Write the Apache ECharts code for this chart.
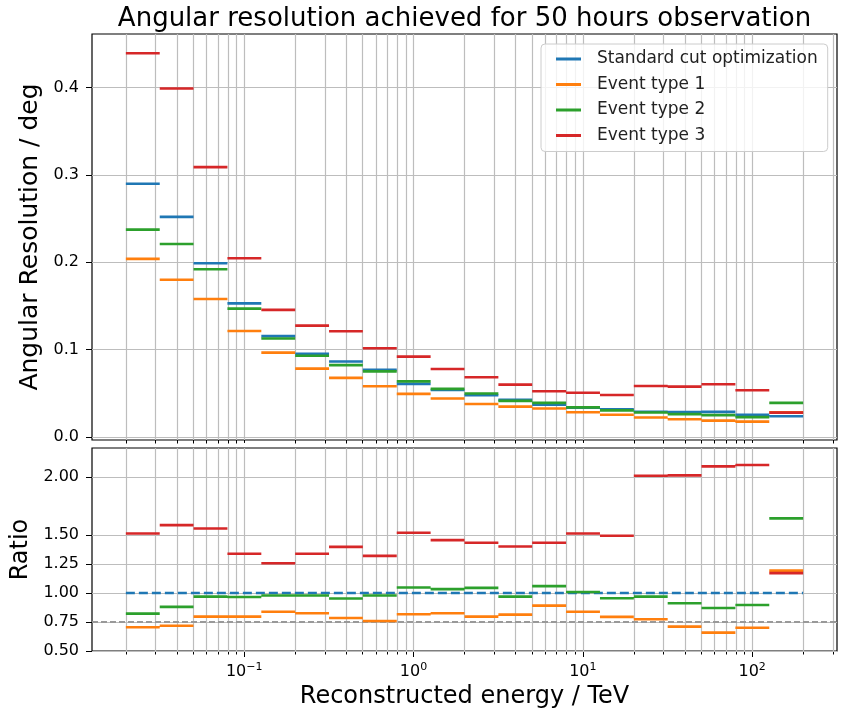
<!DOCTYPE html>
<html><head><meta charset="utf-8">
<script src="https://cdn.jsdelivr.net/npm/echarts@6/dist/echarts.min.js"></script>
<style>html,body{margin:0;padding:0;background:#fff}#c{width:843px;height:713px}</style>
</head><body><div id="c"></div>
<script>
// ---- data ----
const binEdges = [0.02, 0.0317, 0.0502, 0.0796, 0.1262, 0.2, 0.317, 0.502, 0.796, 1.262, 2, 3.17, 5.02, 7.96, 12.62, 20, 31.7, 50.2, 79.6, 126.2, 200];
const stdRes   = [0.290, 0.252, 0.199, 0.153, 0.1155, 0.0952, 0.0864, 0.0768, 0.0608, 0.0537, 0.0478, 0.0425, 0.0368, 0.0336, 0.0318, 0.0289, 0.0286, 0.0287, 0.0253, 0.0237];
const type1Res = [0.204, 0.180, 0.158, 0.1214, 0.0966, 0.0782, 0.0676, 0.058, 0.0493, 0.0441, 0.0378, 0.0347, 0.0326, 0.0282, 0.0254, 0.0222, 0.0202, 0.0187, 0.0176, 0.0281];
const type2Res = [0.2375, 0.221, 0.192, 0.147, 0.1128, 0.0930, 0.0822, 0.0751, 0.0636, 0.0551, 0.0498, 0.0413, 0.0390, 0.0339, 0.0304, 0.0280, 0.0261, 0.0250, 0.0227, 0.0390];
const type3Res = [0.4394, 0.399, 0.309, 0.2046, 0.1455, 0.1275, 0.121, 0.1015, 0.092, 0.0779, 0.0683, 0.0599, 0.0523, 0.0507, 0.0481, 0.0584, 0.0576, 0.0603, 0.0534, 0.0278];
const type1Ratio = [0.705, 0.718, 0.796, 0.796, 0.839, 0.825, 0.785, 0.759, 0.817, 0.825, 0.796, 0.814, 0.891, 0.839, 0.794, 0.774, 0.710, 0.658, 0.701, 1.193];
const type2Ratio = [0.822, 0.880, 0.969, 0.966, 0.978, 0.978, 0.952, 0.978, 1.047, 1.033, 1.044, 0.969, 1.059, 1.009, 0.955, 0.969, 0.912, 0.871, 0.897, 1.643];
const type3Ratio = [1.513, 1.585, 1.556, 1.338, 1.257, 1.338, 1.398, 1.320, 1.519, 1.456, 1.433, 1.401, 1.433, 1.513, 1.493, 2.011, 2.014, 2.092, 2.104, 1.171];
const seriesNames = ['Standard cut optimization', 'Event type 1', 'Event type 2', 'Event type 3'];
const xMajorTicks = [0.1, 1, 10, 100];
const xMinorMultipliers = [2, 3, 4, 5, 6, 7, 8, 9];
const xDecades = [0.01, 0.1, 1, 10, 100];
const resTicks = [0, 0.1, 0.2, 0.3, 0.4];
const ratioTicks = [0.5, 0.75, 1, 1.25, 1.5, 2];
const unityRatio = 1;
const lowerRatio = 0.75;

// ---- styling / layout ----
const colors = ['#1f77b4', '#ff7f0e', '#2ca02c', '#d62728'];
const FONT = 'DejaVu Sans';
const X_MIN = 0.01262, X_MAX = 317;
const gridColor = '#bdbdbd';

const xMinorTicks = [];
xDecades.forEach(d => xMinorMultipliers.forEach(m => {
  const v = +(d * m).toPrecision(6);
  if (v > X_MIN && v < X_MAX) xMinorTicks.push(v);
}));
const allXGrid = xMinorTicks.concat(xMajorTicks);

function steps(vals) {
  const d = [];
  vals.forEach((v, i) => {
    d.push([binEdges[i], v]);
    d.push([binEdges[i + 1], v]);
    d.push([binEdges[i + 1], '-']);
  });
  return d;
}

function supLabel(v) {
  const n = Math.round(Math.log10(v));
  const e = n < 0 ? '\u2212' + (-n) : '' + n;
  return '{b|10}{s|' + e + '}';
}

function xAxisDef(gridIndex, ticks, len, withLabels) {
  const ax = {
    gridIndex, type: 'log', logBase: 10, min: X_MIN, max: X_MAX, position: 'bottom',
    axisLine: { show: false },
    splitLine: { show: false },
    minorTick: { show: false }, minorSplitLine: { show: false },
    axisTick: { show: true, inside: false, length: len, customValues: ticks, lineStyle: { color: '#000', width: 1 } },
    axisLabel: { show: false }
  };
  if (withLabels) {
    ax.axisLabel = {
      show: true, customValues: xMajorTicks, margin: 11, formatter: supLabel,
      rich: {
        b: { fontFamily: FONT, fontSize: 16, color: '#000', lineHeight: 20 },
        s: { fontFamily: FONT, fontSize: 11, color: '#000', lineHeight: 10, verticalAlign: 'top' }
      }
    };
    ax.name = 'Reconstructed energy / TeV';
    ax.nameLocation = 'middle';
    ax.nameGap = 34;
    ax.nameTextStyle = { fontFamily: FONT, fontSize: 24, color: '#000', verticalAlign: 'top' };
  }
  return ax;
}

function gridSeries(xi, yi, yTicks) {
  return {
    type: 'line', xAxisIndex: xi, yAxisIndex: yi, data: [], z: 1, silent: true,
    markLine: {
      z: 1, silent: true, symbol: ['none', 'none'], label: { show: false }, animation: false,
      lineStyle: { color: gridColor, width: 1.2, type: 'solid' },
      emphasis: { disabled: true },
      data: allXGrid.map(v => ({ xAxis: v })).concat(yTicks.map(v => ({ yAxis: v })))
    }
  };
}

function stepSeries(name, color, vals, xi, yi) {
  return {
    name, type: 'line', xAxisIndex: xi, yAxisIndex: yi, data: steps(vals),
    showSymbol: false, symbol: 'none', connectNulls: false, z: 3,
    lineStyle: { color, width: 2.6, type: 'solid' }, itemStyle: { color },
    emphasis: { disabled: true }
  };
}

const option = {
  animation: false,
  backgroundColor: '#fff',
  textStyle: { fontFamily: FONT },
  title: {
    text: 'Angular resolution achieved for 50 hours observation',
    left: 459.5, top: 1, textAlign: 'center',
    textStyle: { fontFamily: FONT, fontSize: 26, fontWeight: 'normal', color: '#000' }
  },
  legend: {
    z: 10,
    data: seriesNames.map((n, i) => ({ name: n, itemStyle: { color: colors[i], borderWidth: 0 } })),
    orient: 'vertical', left: 541, top: 44,
    padding: [5, 10, 6, 15], itemGap: 5.5, itemWidth: 25, itemHeight: 3,
    icon: 'rect', selectedMode: false,
    itemStyle: { borderWidth: 0 },
    backgroundColor: 'rgba(255,255,255,0.8)', borderColor: '#cccccc', borderWidth: 1, borderRadius: 4,
    textStyle: { fontFamily: FONT, fontSize: 17, color: '#222', lineHeight: 20, padding: [0, 0, 0, 11] }
  },
  grid: [
    { left: 92, right: 6, top: 34, bottom: 273, show: true, borderColor: '#000', borderWidth: 1.2, backgroundColor: 'transparent', containLabel: false, outerBoundsMode: 'none' },
    { left: 92, right: 6, top: 448, bottom: 62, show: true, borderColor: '#000', borderWidth: 1.2, backgroundColor: 'transparent', containLabel: false, outerBoundsMode: 'none' }
  ],
  xAxis: [
    xAxisDef(0, xMajorTicks, 6, false),
    xAxisDef(0, xMinorTicks, 3.5, false),
    xAxisDef(1, xMajorTicks, 6, true),
    xAxisDef(1, xMinorTicks, 3.5, false)
  ],
  yAxis: [
    {
      gridIndex: 0, type: 'value', min: -0.0035, max: 0.4615,
      axisLine: { show: false }, splitLine: { show: false },
      axisTick: { show: true, length: 6, customValues: resTicks, lineStyle: { color: '#000', width: 1 } },
      axisLabel: { customValues: resTicks, formatter: v => v.toFixed(1), fontFamily: FONT, fontSize: 16, color: '#000', margin: 13 },
      name: 'Angular Resolution / deg', nameLocation: 'middle', nameGap: 41, nameRotate: 90,
      nameTextStyle: { fontFamily: FONT, fontSize: 25, color: '#000' }
    },
    {
      gridIndex: 1, type: 'value', min: 0.5, max: 2.25,
      axisLine: { show: false }, splitLine: { show: false },
      axisTick: { show: true, length: 6, customValues: ratioTicks, lineStyle: { color: '#000', width: 1 } },
      axisLabel: { customValues: ratioTicks, formatter: v => v.toFixed(2), fontFamily: FONT, fontSize: 16, color: '#000', margin: 13 },
      name: 'Ratio', nameLocation: 'middle', nameGap: 57, nameRotate: 90,
      nameTextStyle: { fontFamily: FONT, fontSize: 24, color: '#000' }
    }
  ],
  series: [
    gridSeries(0, 0, resTicks),
    gridSeries(2, 1, ratioTicks),
    {
      type: 'line', xAxisIndex: 2, yAxisIndex: 1, data: [], z: 2, silent: true,
      markLine: {
        z: 2, silent: true, symbol: ['none', 'none'], label: { show: false }, animation: false,
        lineStyle: { color: '#999999', width: 1.8, type: [6, 3] },
        data: [{ yAxis: lowerRatio }]
      }
    },
    stepSeries(seriesNames[0], colors[0], stdRes, 0, 0),
    stepSeries(seriesNames[1], colors[1], type1Res, 0, 0),
    stepSeries(seriesNames[2], colors[2], type2Res, 0, 0),
    stepSeries(seriesNames[3], colors[3], type3Res, 0, 0),
    {
      name: 'unity', type: 'line', xAxisIndex: 2, yAxisIndex: 1,
      data: [[binEdges[0], unityRatio], [binEdges[binEdges.length - 1], unityRatio]],
      showSymbol: false, symbol: 'none', z: 2.5,
      lineStyle: { color: colors[0], width: 2.6, type: [9, 4] }, emphasis: { disabled: true }
    },
    stepSeries(seriesNames[1], colors[1], type1Ratio, 2, 1),
    stepSeries(seriesNames[2], colors[2], type2Ratio, 2, 1),
    stepSeries(seriesNames[3], colors[3], type3Ratio, 2, 1)
  ]
};

const chart = echarts.init(document.getElementById('c'), null, { renderer: 'canvas' });
chart.setOption(option);
</script>
</body></html>
